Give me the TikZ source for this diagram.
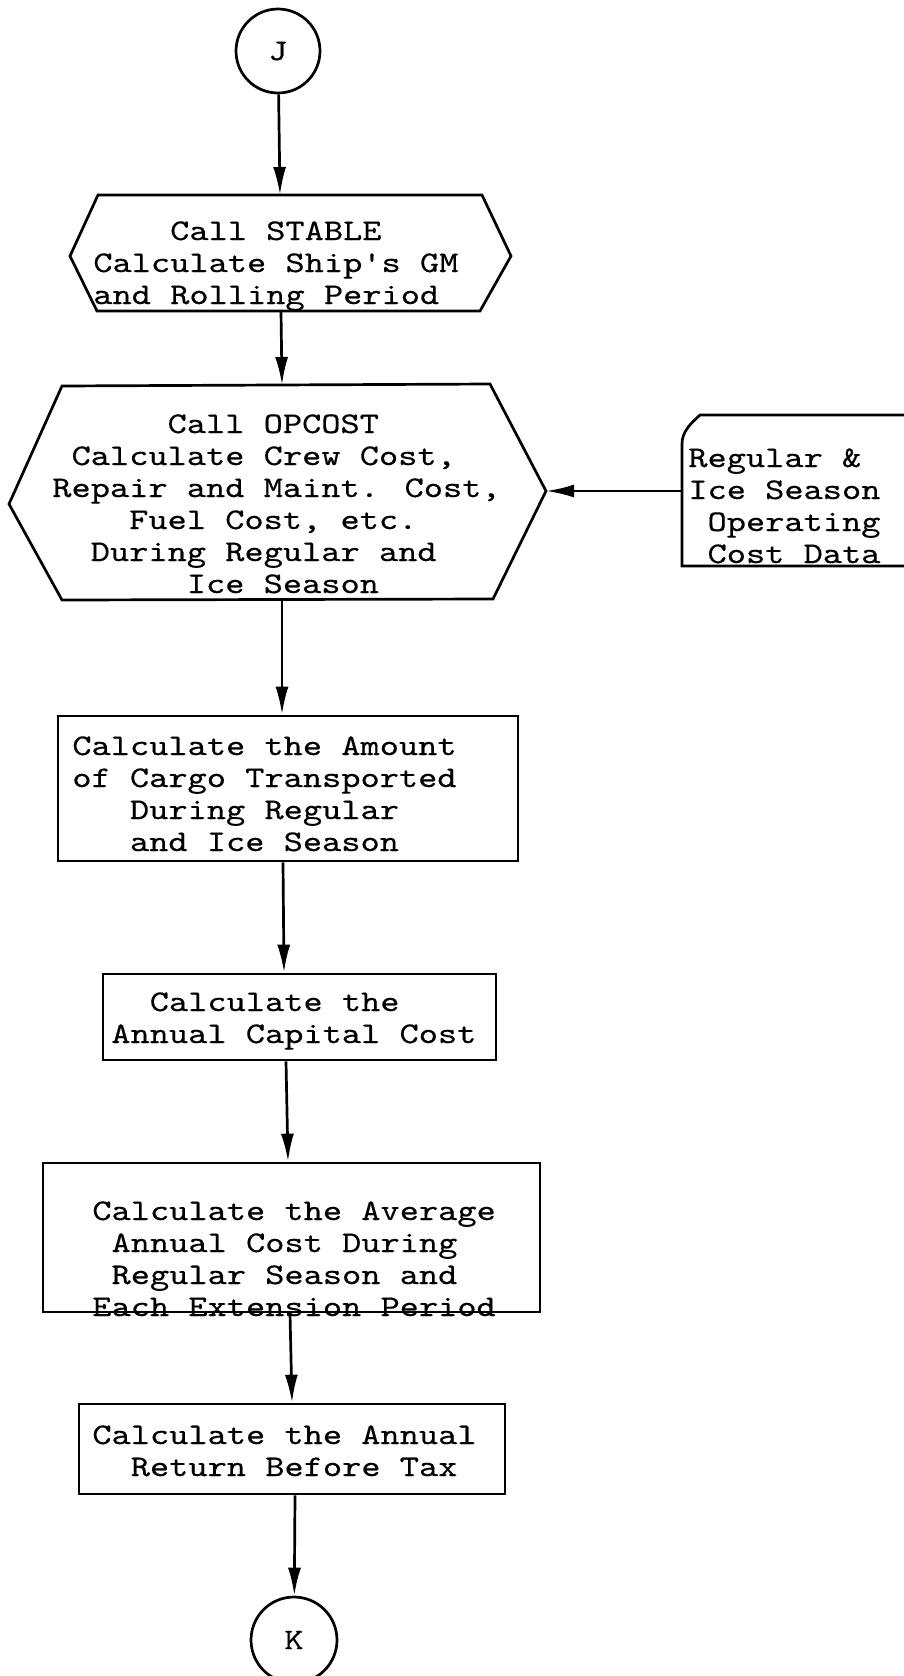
\documentclass[tikz,border=0pt]{standalone}
\usepackage{fontspec}
\usetikzlibrary{arrows.meta}

% wide typewriter face
\newfontfamily\typewriter{lmmono10-regular}[Extension=.otf, FakeStretch=1.22, FakeBold=0.4]
% typewriter indent, in character cells
\newcommand\colskip[1]{\setbox0\hbox{x}\hspace*{#1\wd0}}

\begin{document}
\begin{tikzpicture}[x=1pt, y=-1pt, line width=2.7pt,
    typed/.style={font=\fontsize{30}{32}\selectfont\typewriter},
    txt/.style={typed, align=left, inner sep=0pt, anchor=base west},
    conn/.style={typed, draw, circle, minimum size=84pt, inner sep=0pt},
    box/.style={draw, rectangle, inner sep=0pt},
    flow/.style={-{Latex[length=28pt,width=13pt]}}]
  \useasboundingbox (0,0) rectangle (904,1676);

  % connectors in and out
  \node[conn] (J) at (278,51) {J};
  \node[conn, minimum size=86pt] (K) at (294,1640) {K};

  % STABLE hexagon (text placed by its last baseline)
  \draw (98,195) -- (482,195) -- (511,256) -- (480,311) -- (97,311) -- (70,256) -- cycle;
  \coordinate (stable-n) at (280,195);
  \coordinate (stable-s) at (281,311);
  \node[txt] (stable) at (92,304) {\colskip{4}Call STABLE\\Calculate Ship's GM\\and Rolling Period};

  % OPCOST hexagon
  \draw (62,386) -- (490,384) -- (546,491) -- (493,599) -- (62,600) -- (9,504) -- cycle;
  \coordinate (opcost-n) at (282,385);
  \coordinate (opcost-s) at (282,600);
  \coordinate (opcost-e) at (546,491);
  \node[txt] (opcost) at (51,593) {\colskip{6}Call OPCOST\\\colskip{1}Calculate Crew Cost,\\Repair and Maint. Cost,\\\colskip{4}Fuel Cost, etc.\\\colskip{2}During Regular and\\\colskip{7}Ice Season};

  % operating cost data, runs off the right edge
  \draw (904,415) -- (700,415) .. controls (690,424) and (682,432) .. (682,444) -- (682,566) -- (904,566);
  \coordinate (data-w) at (682,491);
  \node[txt] (data) at (687,563) {Regular \&\\Ice Season\\\colskip{1}Operating\\\colskip{1}Cost Data};

  % process boxes
  \node[box, minimum width=460pt, minimum height=145pt] (cargo) at (288,788.5) {};
  \node[txt] (cargo-t) at (71,851) {Calculate the Amount\\of Cargo Transported\\\colskip{3}During Regular\\\colskip{3}and Ice Season};

  \node[box, minimum width=393pt, minimum height=86pt] (capital) at (299.5,1017) {};
  \node[txt] (capital-t) at (110,1043) {\colskip{2}Calculate the\\Annual Capital Cost};

  \node[box, minimum width=497pt, minimum height=149pt] (average) at (291.5,1237.5) {};
  \node[txt] (average-t) at (91,1316) {Calculate the Average\\\colskip{1}Annual Cost During\\\colskip{1}Regular Season and\\Each Extension Period};

  \node[box, minimum width=426pt, minimum height=90pt] (return) at (292,1449) {};
  \node[txt] (return-t) at (91,1476) {Calculate the Annual\\\colskip{2}Return Before Tax};

  % flow lines
  \draw[flow] (J) -- (stable-n);
  \draw[flow] (stable-s) -- (opcost-n);
  \draw[flow] (data-w) -- (opcost-e);
  \draw[flow] (opcost-s) -- ([xshift=-6pt]cargo.north);
  \draw[flow] ([xshift=-5pt]cargo.south) -- ([xshift=-15.5pt]capital.north);
  \draw[flow] ([xshift=-13.5pt]capital.south) -- ([xshift=-3.5pt]average.north);
  \draw[flow] ([xshift=-1.5pt]average.south) -- (return.north);
  \draw[flow] ([xshift=3pt]return.south) -- (K);
\end{tikzpicture}
\end{document}
